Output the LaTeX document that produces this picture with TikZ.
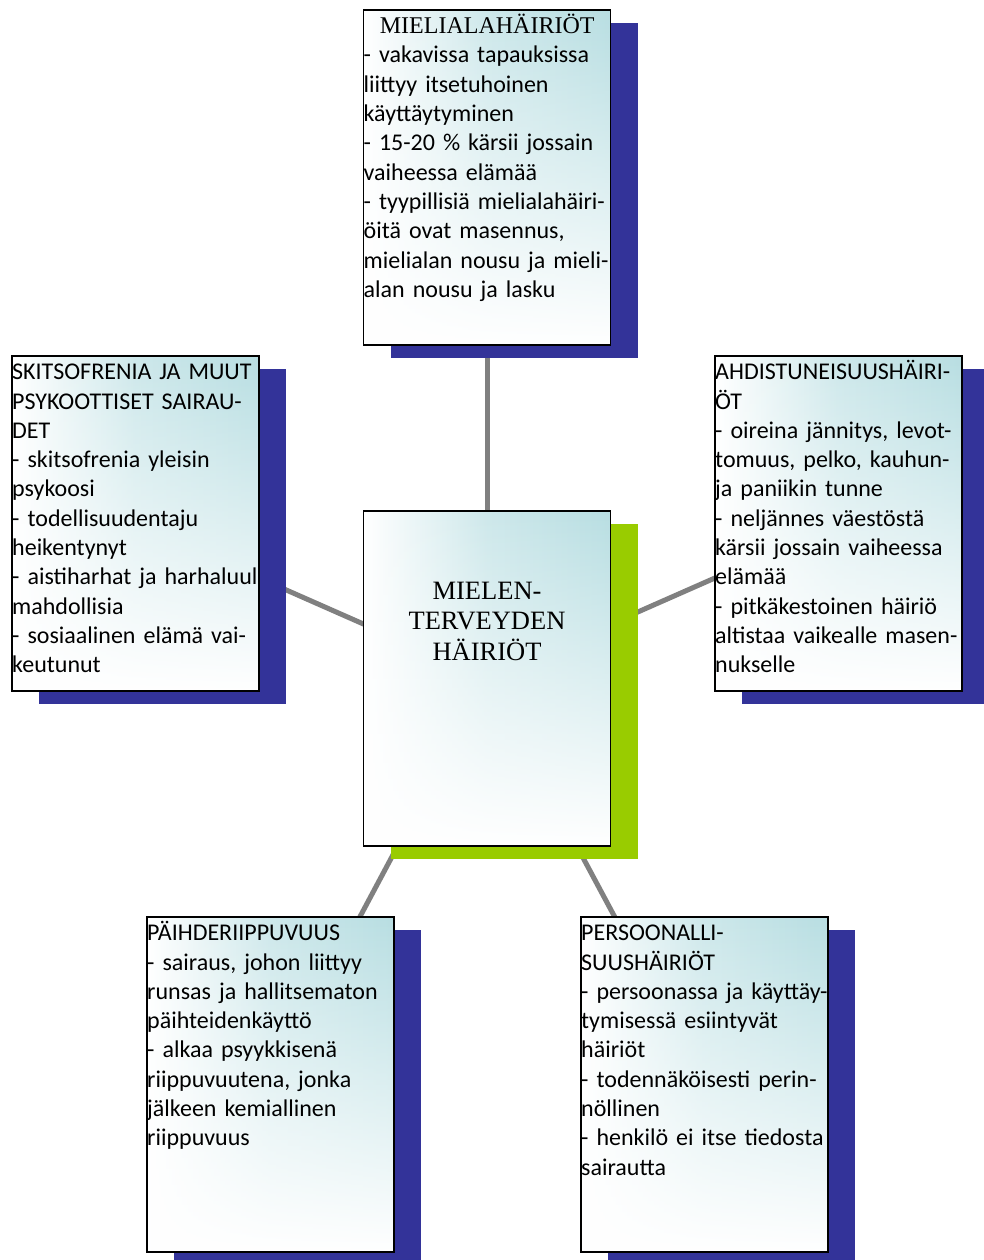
\documentclass[tikz,border=0pt]{standalone}
\usepackage{fontspec}
\newfontfamily\calib{Carlito}
\newfontfamily\tnr{Liberation Serif}
\usetikzlibrary{fadings}
\definecolor{tealone}{RGB}{184,222,226}
\definecolor{shblue}{RGB}{51,51,153}
\definecolor{shgreen}{RGB}{153,204,0}
\definecolor{conngray}{RGB}{128,128,128}
\tikzfading[name=fadetop, top color=transparent!100, middle color=transparent!55, bottom color=transparent!0]
\pgfdeclarelayer{lines}
\pgfdeclarelayer{shades}
\pgfsetlayers{lines,shades,main}
\tikzset{
  boxbase/.style={minimum width=247pt, minimum height=335pt, inner sep=0pt, outer sep=0pt,
    draw=black, line width=1.5pt, left color=white, right color=tealone, middle color=tealone!70,
    path picture={\fill[white, path fading=fadetop] (path picture bounding box.south west) rectangle (path picture bounding box.north east);}},
  boxtext/.style={anchor=north west, inner sep=0pt, text width=400pt, align=left,
    font=\calib\fontsize{24}{29.3}\selectfont},
  hubtext/.style={anchor=north, inner sep=0pt, text width=247pt, align=center,
    font=\tnr\fontsize{26.5}{30.5}\selectfont},
  conn/.style={draw=conngray, line width=5pt},
  blueshadow/.style={fill=shblue},
  greenshadow/.style={fill=shgreen}
}
\newcommand\boxtextat[2]{%
  \begin{scope}
  \clip (#1.north west) rectangle (#1.south east);
  \node[boxtext] (#1text) at (#1.north west) {\rule{0pt}{23.5pt}#2};
  \end{scope}}
\begin{document}
\begin{tikzpicture}[x=1pt,y=-1pt]
\useasboundingbox (0,0) rectangle (984,1260);
\node[boxbase] (mood) at (487,177.5) {};
\node[boxbase] (hub) at (487,678.5) {};
\node[boxbase] (skitso) at (135.5,523.5) {};
\node[boxbase] (anx) at (838.5,523.5) {};
\node[boxbase] (subst) at (270.5,1084.5) {};
\node[boxbase] (pers) at (704.5,1084.5) {};
\boxtextat{mood}{\makebox[247pt][c]{\tnr MIELIALAHÄIRIÖT}\\
- vakavissa tapauksissa\\
liittyy itsetuhoinen\\
käyttäytyminen\\
- 15-20 \% kärsii jossain\\
vaiheessa elämää\\
- tyypillisiä mielialahäiri-\\
öitä ovat masennus,\\
mielialan nousu ja mieli-\\
alan nousu ja lasku}
\node[hubtext] (hubtext) at (hub.north) {\rule{0pt}{88pt}MIELEN-\\TERVEYDEN\\HÄIRIÖT};
\boxtextat{skitso}{SKITSOFRENIA JA MUUT\\
PSYKOOTTISET SAIRAU-\\
DET\\
- skitsofrenia yleisin\\
psykoosi\\
- todellisuudentaju\\
heikentynyt\\
- aistiharhat ja harhaluulot\\
mahdollisia\\
- sosiaalinen elämä vai-\\
keutunut}
\boxtextat{anx}{AHDISTUNEISUUSHÄIRI-\\
ÖT\\
- oireina jännitys, levot-\\
tomuus, pelko, kauhun-\\
ja paniikin tunne\\
- neljännes väestöstä\\
kärsii jossain vaiheessa\\
elämää\\
- pitkäkestoinen häiriö\\
altistaa vaikealle masen-\\
nukselle}
\boxtextat{subst}{PÄIHDERIIPPUVUUS\\
- sairaus, johon liittyy\\
runsas ja hallitsematon\\
päihteidenkäyttö\\
- alkaa psyykkisenä\\
riippuvuutena, jonka\\
jälkeen kemiallinen\\
riippuvuus}
\boxtextat{pers}{PERSOONALLI-\\
SUUSHÄIRIÖT\\
- persoonassa ja käyttäy-\\
tymisessä esiintyvät\\
häiriöt\\
- todennäköisesti perin-\\
nöllinen\\
- henkilö ei itse tiedosta\\
sairautta}
\begin{pgfonlayer}{shades}
\foreach \n in {mood,skitso,anx,subst,pers}
  \fill[blueshadow] ([shift={(27,13)}]\n.north west) rectangle ([shift={(27,13)}]\n.south east);
\fill[greenshadow] ([shift={(27,13)}]hub.north west) rectangle ([shift={(27,13)}]hub.south east);
\end{pgfonlayer}
\begin{pgfonlayer}{lines}
\fill[white] (0,0) rectangle (984,1260);
\foreach \n in {mood,skitso,anx,subst,pers}
  \draw[conn] (hub.center) -- (\n.center);
\end{pgfonlayer}
\end{tikzpicture}
\end{document}
